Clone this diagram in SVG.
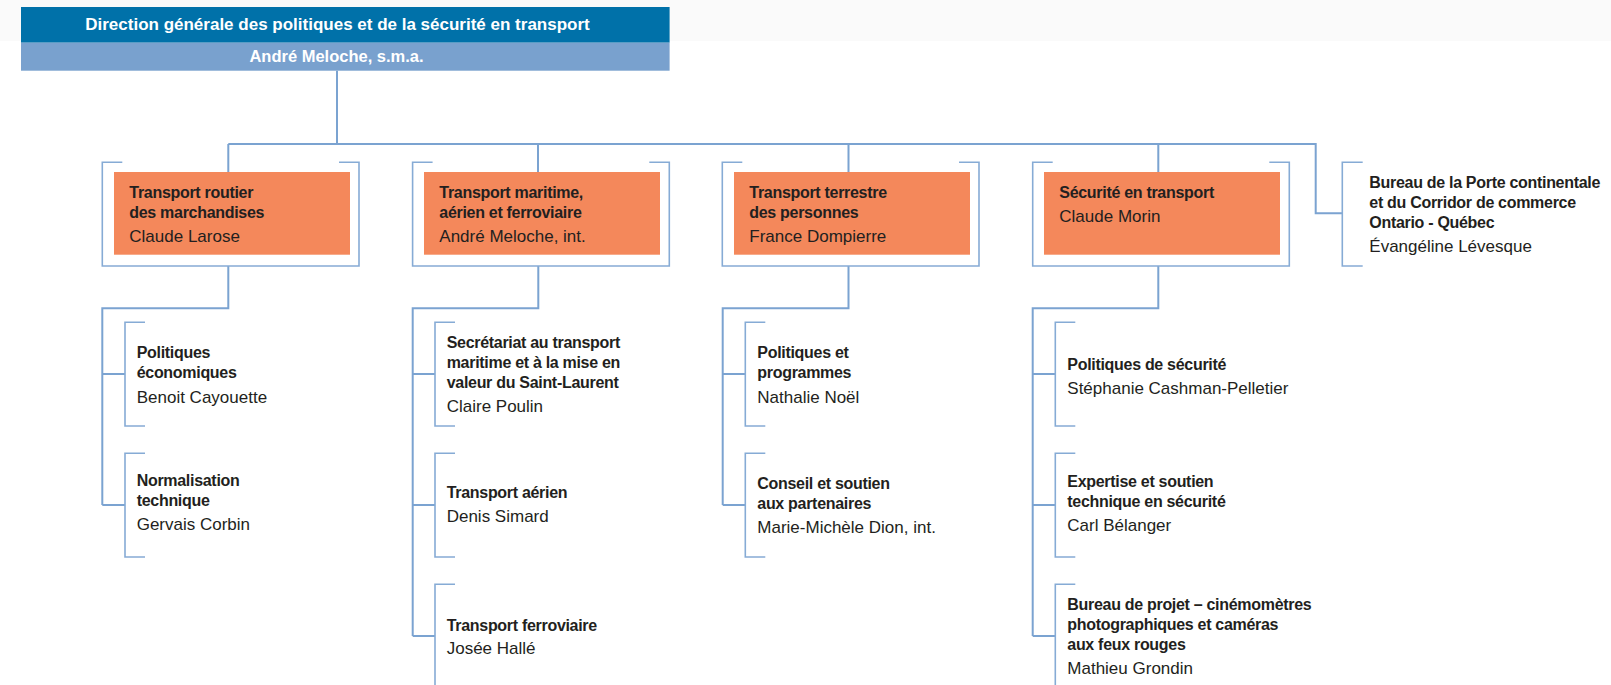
<svg xmlns="http://www.w3.org/2000/svg" width="1611" height="685" viewBox="0 0 1611 685">
<style>
.ln{fill:none;stroke:#7BA3D1;stroke-width:2}
.br{fill:none;stroke:#86ABD5;stroke-width:1.6}
.org{fill:#F4885B}
.b{font-family:"Liberation Sans",Arial,sans-serif;font-weight:bold;font-size:16px;letter-spacing:-0.3px;fill:#231F20}
.r{font-family:"Liberation Sans",Arial,sans-serif;font-size:17px;fill:#231F20}
.t{font-family:"Liberation Sans",Arial,sans-serif;font-weight:bold;fill:#FFFFFF;text-anchor:middle}
</style>
<rect x="0" y="0" width="1611" height="41" fill="#FAFAFA"/>
<g id="connectors">
<path class="ln" d="M337,70.7 V144 M228.3,144 H1315.7 V213.3 H1342.3"/>
<path class="ln" d="M228.3,144 V172 M538,144 V172 M848.5,144 V172 M1158.3,144 V172"/>
<path class="ln" d="M228.3,266 V308.3 H102.3 V505 M102.3,374 H125 M102.3,505 H125"/>
<path class="ln" d="M538.3,266 V308.3 H412.7 V636 M412.7,374 H435 M412.7,505 H435 M412.7,636 H435"/>
<path class="ln" d="M848.5,266 V308.3 H722.7 V505 M722.7,374 H745.3 M722.7,505 H745.3"/>
<path class="ln" d="M1158.3,266 V308.3 H1032.7 V636 M1032.7,374 H1055.3 M1032.7,505 H1055.3 M1032.7,636 H1055.3"/>
</g>
<g id="title">
<rect x="21" y="7" width="648.6" height="35.7" fill="#0071A9"/>
<rect x="21" y="42.7" width="648.6" height="28" fill="#79A1CE"/>
<text class="t" x="337.5" y="30" font-size="17">Direction générale des politiques et de la sécurité en transport</text>
<text class="t" x="336.5" y="62" font-size="16.5">André Meloche, s.m.a.</text>
</g>
<g id="n1">
<path class="br" d="M122.3,162.3 H102.3 V266 H359 V162.3 H339"/>
<rect class="org" x="114" y="172" width="236" height="82.7"/>
<text class="b" x="129.3" y="198.3">Transport routier</text>
<text class="b" x="129.3" y="218.3">des marchandises</text>
<text class="r" x="129.3" y="242.3">Claude Larose</text>
</g>
<g id="n2">
<path class="br" d="M432.6,162.3 H412.6 V266 H669.3 V162.3 H649.3"/>
<rect class="org" x="424" y="172" width="236" height="82.7"/>
<text class="b" x="439.3" y="198.3">Transport maritime,</text>
<text class="b" x="439.3" y="218.3">aérien et ferroviaire</text>
<text class="r" x="439.3" y="242.3">André Meloche, int.</text>
</g>
<g id="n3">
<path class="br" d="M742.3,162.3 H722.3 V266 H979 V162.3 H959"/>
<rect class="org" x="734" y="172" width="236" height="82.7"/>
<text class="b" x="749.3" y="198.3">Transport terrestre</text>
<text class="b" x="749.3" y="218.3">des personnes</text>
<text class="r" x="749.3" y="242.3">France Dompierre</text>
</g>
<g id="n4">
<path class="br" d="M1052.7,162.3 H1032.7 V266 H1289.3 V162.3 H1269.3"/>
<rect class="org" x="1044" y="172" width="236" height="82.7"/>
<text class="b" x="1059.3" y="198.3">Sécurité en transport</text>
<text class="r" x="1059.3" y="222.3">Claude Morin</text>
</g>
<g id="n5">
<path class="br" d="M1362.7,162.3 H1342.3 V266 H1362.7"/>
<text class="b" x="1369.3" y="188.3">Bureau de la Porte continentale</text>
<text class="b" x="1369.3" y="208.3">et du Corridor de commerce</text>
<text class="b" x="1369.3" y="228.3">Ontario - Québec</text>
<text class="r" x="1369.3" y="252">Évangéline Lévesque</text>
</g>
<g id="n1a">
<path class="br" d="M145,322.3 H125 V426 H145"/>
<text class="b" x="136.7" y="358.3">Politiques</text>
<text class="b" x="136.7" y="378.3">économiques</text>
<text class="r" x="136.7" y="402.5">Benoit Cayouette</text>
</g>
<g id="n1b">
<path class="br" d="M145,453.3 H125 V557 H145"/>
<text class="b" x="136.7" y="486">Normalisation</text>
<text class="b" x="136.7" y="506">technique</text>
<text class="r" x="136.7" y="530">Gervais Corbin</text>
</g>
<g id="n2a">
<path class="br" d="M455,322.3 H435 V426 H455"/>
<text class="b" x="446.7" y="348">Secrétariat au transport</text>
<text class="b" x="446.7" y="368">maritime et à la mise en</text>
<text class="b" x="446.7" y="388">valeur du Saint-Laurent</text>
<text class="r" x="446.7" y="412">Claire Poulin</text>
</g>
<g id="n2b">
<path class="br" d="M455,453.3 H435 V557 H455"/>
<text class="b" x="446.7" y="497.5">Transport aérien</text>
<text class="r" x="446.7" y="521.5">Denis Simard</text>
</g>
<g id="n2c">
<path class="br" d="M455,584.3 H435 V688 H455"/>
<text class="b" x="446.7" y="630.5">Transport ferroviaire</text>
<text class="r" x="446.7" y="654">Josée Hallé</text>
</g>
<g id="n3a">
<path class="br" d="M765.3,322.3 H745.3 V426 H765.3"/>
<text class="b" x="757.3" y="358.3">Politiques et</text>
<text class="b" x="757.3" y="378.3">programmes</text>
<text class="r" x="757.3" y="402.5">Nathalie Noël</text>
</g>
<g id="n3b">
<path class="br" d="M765.3,453.3 H745.3 V557 H765.3"/>
<text class="b" x="757.3" y="489">Conseil et soutien</text>
<text class="b" x="757.3" y="509">aux partenaires</text>
<text class="r" x="757.3" y="533">Marie-Michèle Dion, int.</text>
</g>
<g id="n4a">
<path class="br" d="M1075.3,322.3 H1055.3 V426 H1075.3"/>
<text class="b" x="1067.3" y="369.5">Politiques de sécurité</text>
<text class="r" x="1067.3" y="393.5">Stéphanie Cashman-Pelletier</text>
</g>
<g id="n4b">
<path class="br" d="M1075.3,453.3 H1055.3 V557 H1075.3"/>
<text class="b" x="1067.3" y="487">Expertise et soutien</text>
<text class="b" x="1067.3" y="507">technique en sécurité</text>
<text class="r" x="1067.3" y="530.5">Carl Bélanger</text>
</g>
<g id="n4c">
<path class="br" d="M1075.3,584.3 H1055.3 V688 H1075.3"/>
<text class="b" x="1067.3" y="609.5">Bureau de projet – cinémomètres</text>
<text class="b" x="1067.3" y="629.5">photographiques et caméras</text>
<text class="b" x="1067.3" y="649.5">aux feux rouges</text>
<text class="r" x="1067.3" y="673.5">Mathieu Grondin</text>
</g>
</svg>
